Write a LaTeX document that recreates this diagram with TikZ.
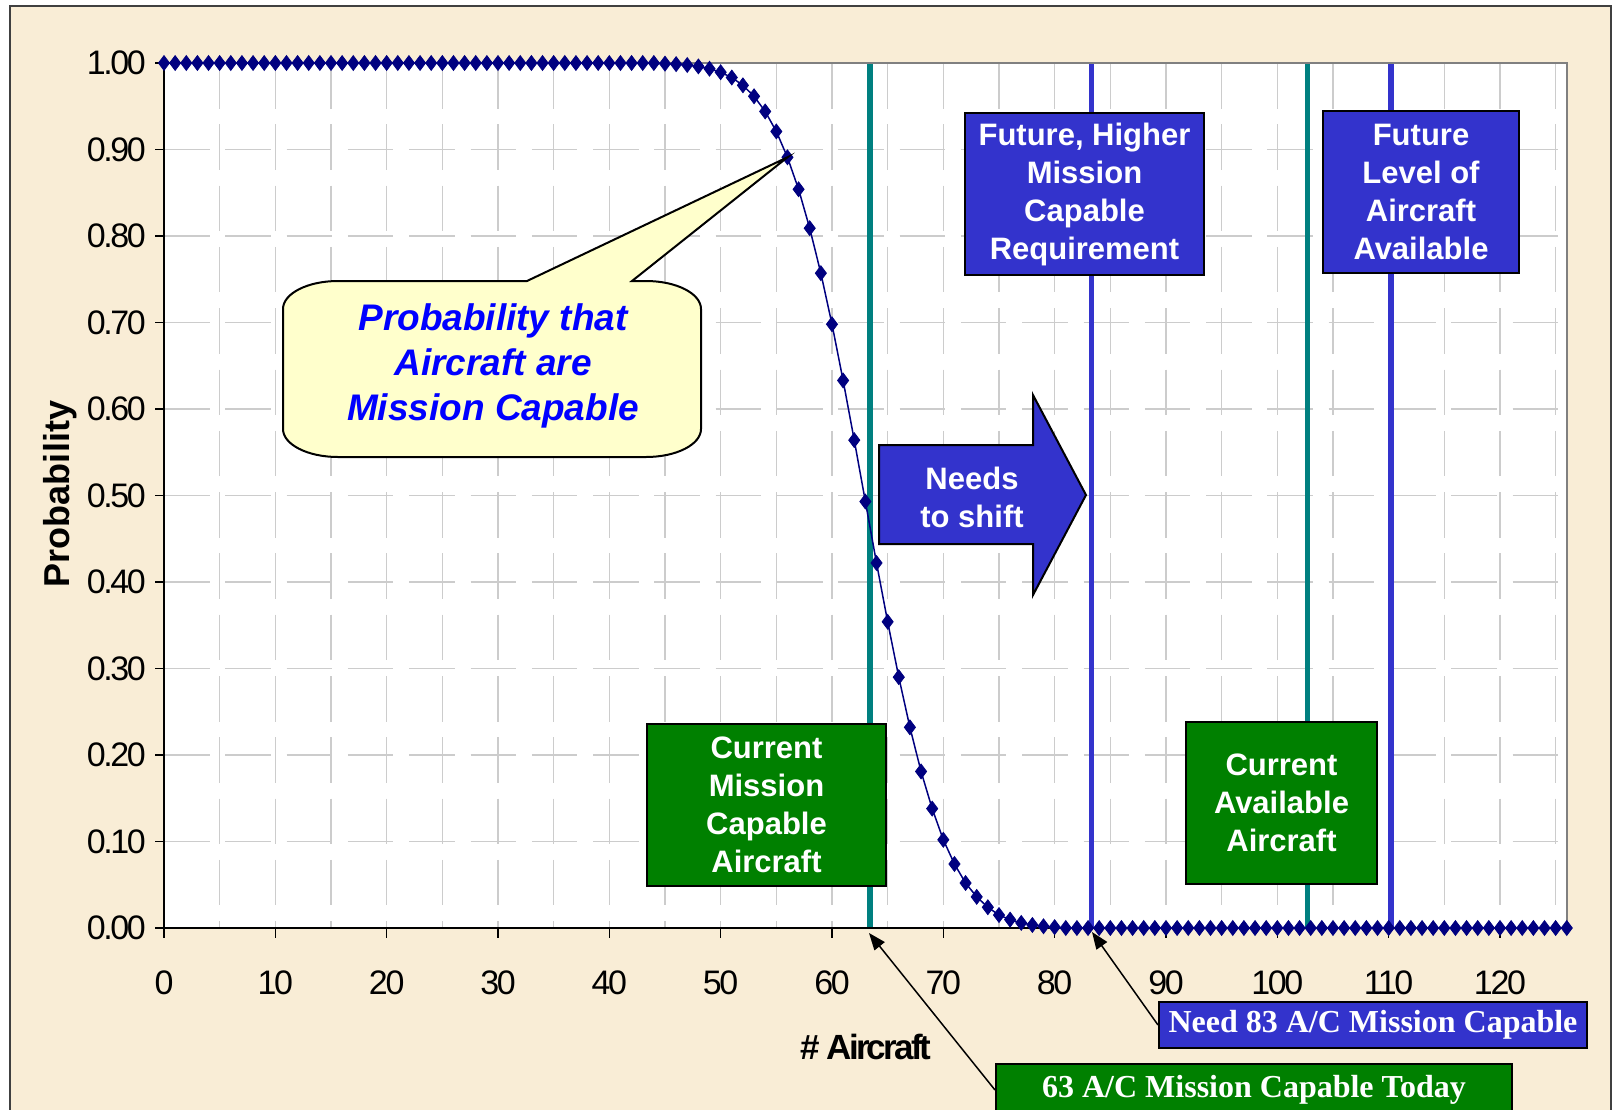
\documentclass[tikz,border=0pt]{standalone}
\usepackage{fontspec}
\setmainfont{Liberation Sans}
\newfontfamily\tickfont[LetterSpace=-7]{Liberation Sans}
\newfontfamily\axisfont[LetterSpace=-8]{Liberation Sans}
\newfontfamily\serifbold{Liberation Serif}
\usetikzlibrary{arrows.meta,plotmarks}

\definecolor{parchment}{HTML}{F9EDD6}
\definecolor{framegray}{HTML}{404040}
\definecolor{gridgray}{HTML}{CCCCCC}
\definecolor{plotedge}{HTML}{808080}
\definecolor{curvenavy}{HTML}{000080}
\definecolor{lineteal}{HTML}{008080}
\definecolor{boxblue}{HTML}{3333CC}
\definecolor{boxgreen}{HTML}{008000}
\definecolor{calloutfill}{HTML}{FFFFCC}
\definecolor{callouttext}{HTML}{0000FF}

\tikzset{
  gridline/.style={draw=gridgray, line width=1.4pt, dash pattern=on 45.5pt off 15.8pt},
  ticklab/.style={font=\tickfont\fontsize{34}{34}\selectfont, inner sep=0pt},
  infobox/.style={draw=black, line width=2pt, text=white, align=center, inner sep=0pt,
    font=\bfseries\fontsize{31}{38}\selectfont},
  bluebox/.style={infobox, fill=boxblue},
  greenbox/.style={infobox, fill=boxgreen},
  tagbox/.style={draw=black, line width=2pt, text=white, inner sep=0pt,
    font=\serifbold\bfseries\fontsize{32}{32}\selectfont},
  pointer/.style={draw=black, line width=1.5pt, -{Triangle[length=17pt,width=13pt]}},
  marker/.style={only marks, mark=diamond*, mark size=7.4pt,
    mark options={draw=curvenavy, fill=curvenavy, line width=0.8pt}},
  refline/.style={line width=5.5pt},
}

\begin{document}
\begin{tikzpicture}[x=1pt,y=-1pt]
\useasboundingbox (0,0) rectangle (1615,1109);
\clip (0,0) rectangle (1615,1109);
\fill[white] (0,0) rectangle (1615,1109);

% slide frame with parchment fill
\draw[framegray, line width=2pt, fill=parchment] (10,6) rectangle (1611,1140);

% plot area
\fill[white] (164,63) rectangle (1567,928);

\begin{scope}[shift={(164,928)}, x=11.133pt, y=865pt]
  % grid
  \foreach \d in {5,10,...,125}
    \draw[gridline] (\d,1) -- (\d,0);
  \foreach \i in {1,...,9}
    \draw[gridline] (0,\i/10) -- (126,\i/10);

  % reference lines
  \draw[refline, lineteal]  (63.4,0) -- (63.4,1);
  \draw[refline, boxblue]   (83.3,0) -- (83.3,1);
  \draw[refline, lineteal]  (102.7,0) -- (102.7,1);
  \draw[refline, boxblue]   (110.2,0) -- (110.2,1);

  % plot frame and axes
  \draw[plotedge, line width=1.5pt] (0,1) -- (126,1) -- (126,0);
  \draw[black, line width=2pt] (0,1) -- (0,0) -- (126,0);
  \foreach \i in {0,...,10}
    \draw[black, line width=1.5pt] ([xshift=-9pt]0,\i/10) -- (0,\i/10);
  \foreach \d in {0,10,...,120}
    \draw[black, line width=1.5pt] (\d,0) -- ([yshift=-10pt]\d,0);

  % tick labels
  \foreach \i/\lab in {0/0.00,1/0.10,2/0.20,3/0.30,4/0.40,5/0.50,6/0.60,7/0.70,8/0.80,9/0.90,10/1.00}
    \node[ticklab, anchor=east] (ylab\i) at ([xshift=-18pt]0,\i/10) {\lab};
  \foreach \d in {0,10,...,120}
    \node[ticklab] (xlab\d) at ([yshift=-55pt]\d,0) {\d};

  % probability curve
  \draw[curvenavy, line width=1.5pt] plot coordinates {
    (0,1) (44,1) (45,.9993) (46,.9987) (47,.9977) (48,.9961) (49,.9934)
    (50,.9893) (51,.9832) (52,.9742) (53,.9615) (54,.944) (55,.9209)
    (56,.891) (57,.854) (58,.809) (59,.757) (60,.698) (61,.633) (62,.564)
    (63,.493) (64,.422) (65,.354) (66,.290) (67,.232) (68,.181) (69,.138)
    (70,.102) (71,.074) (72,.052) (73,.036) (74,.024) (75,.015) (76,.0097)
    (77,.0059) (78,.0035) (79,.002) (80,.001) (81,0) (126,0)};
  \draw plot[marker, domain=0:44, samples=45] (\x,1);
  \draw plot[marker] coordinates {
    (45,.9993) (46,.9987) (47,.9977) (48,.9961) (49,.9934)
    (50,.9893) (51,.9832) (52,.9742) (53,.9615) (54,.944) (55,.9209)
    (56,.891) (57,.854) (58,.809) (59,.757) (60,.698) (61,.633) (62,.564)
    (63,.493) (64,.422) (65,.354) (66,.290) (67,.232) (68,.181) (69,.138)
    (70,.102) (71,.074) (72,.052) (73,.036) (74,.024) (75,.015) (76,.0097)
    (77,.0059) (78,.0035) (79,.002) (80,.001)};
  \draw plot[marker, domain=81:126, samples=46] (\x,0);

  \coordinate (tip56) at (56,.891);
\end{scope}

% axis titles
\node[rotate=90, inner sep=0pt, font=\bfseries\fontsize{36}{36}\selectfont] (ytitle) at (60,494) {Probability};
\node[inner sep=0pt, font=\axisfont\bfseries\fontsize{35}{35}\selectfont] (xtitle) at (866,1047) {\# Aircraft};

% callout balloon
\draw[black, line width=2pt, fill=calloutfill]
  (283,309) .. controls (283,293.5) and (307.6,281) .. (338,281)
  -- (527,281) -- (tip56) -- (632,281) -- (646,281)
  .. controls (676.4,281) and (701,293.5) .. (701,309)
  -- (701,429)
  .. controls (701,444.5) and (676.4,457) .. (646,457)
  -- (338,457)
  .. controls (307.6,457) and (283,444.5) .. (283,429) -- cycle;
\node[align=center, inner sep=0pt, text=callouttext,
  font=\bfseries\itshape\fontsize{37}{45}\selectfont] (callout) at (493,366)
  {Probability that\\Aircraft are\\Mission Capable};

% shift arrow
\draw[black, line width=2pt, fill=boxblue]
  (879,445) -- (1033,445) -- (1033,395) -- (1086,495) -- (1033,595)
  -- (1033,544) -- (879,544) -- cycle;
\node[align=center, inner sep=0pt, text=white,
  font=\bfseries\fontsize{31}{38}\selectfont] (shift) at (972,497) {Needs\\to shift};

% labelled boxes
\node[bluebox, minimum width=239pt, minimum height=162pt] (futurereq) at (1084.5,194)
  {Future, Higher\\Mission\\Capable\\Requirement};
\node[bluebox, minimum width=196pt, minimum height=162pt] (futureavail) at (1421,192)
  {Future\\Level of\\Aircraft\\Available};
\node[greenbox, minimum width=239pt, minimum height=162pt] (currentmc) at (766.5,805)
  {Current\\Mission\\Capable\\Aircraft};
\node[greenbox, minimum width=191pt, minimum height=162pt] (currentavail) at (1281.5,803)
  {Current\\Available\\Aircraft};

% bottom tags with leaders
\node[tagbox, fill=boxblue, minimum width=428pt, minimum height=46pt] (need83) at (1373,1025)
  {Need 83 A/C Mission Capable};
\node[tagbox, fill=boxgreen, minimum width=516pt, minimum height=52pt] (today63) at (1254,1090)
  {63 A/C Mission Capable Today};

\coordinate (tealfoot) at (869,933);
\coordinate (bluefoot) at (1092,932);
\draw[pointer] (today63.west) -- (tealfoot);
\draw[pointer] (need83.west) -- (bluefoot);
\end{tikzpicture}
\end{document}
